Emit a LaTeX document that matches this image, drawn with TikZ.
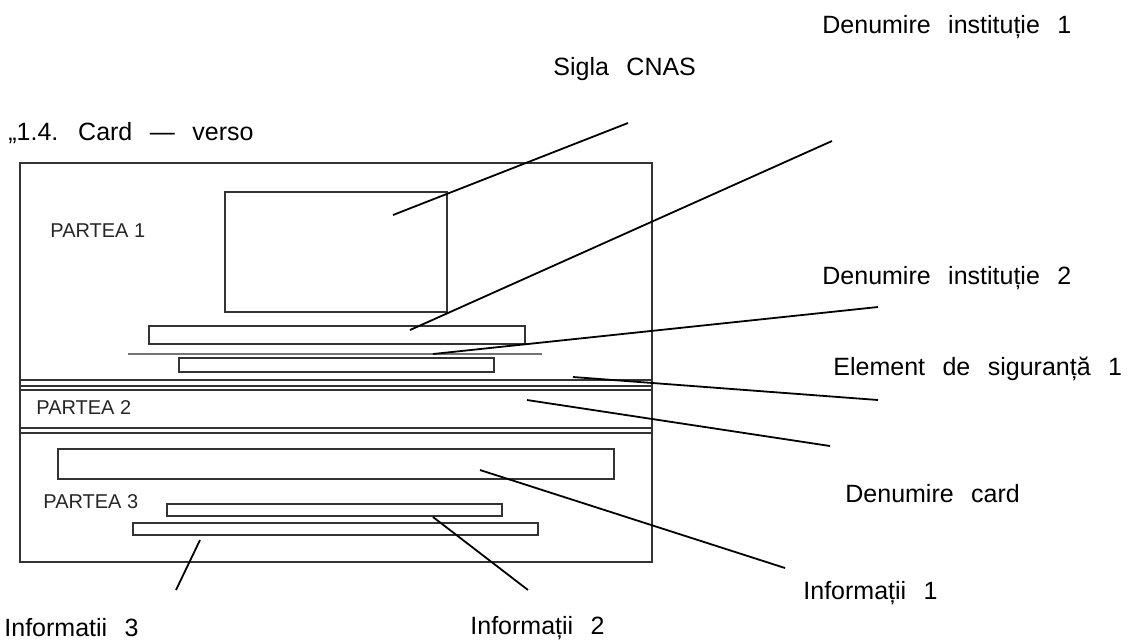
\documentclass[tikz,border=0pt]{standalone}
\usepackage{fontspec}
\setmainfont{Liberation Sans}
\usetikzlibrary{positioning}

\newcommand{\lblfont}{\fontsize{12.5}{15}\selectfont\spaceskip=0.7em\relax}
\newcommand{\partfont}{\fontsize{10}{12}\selectfont}

\begin{document}
\begin{tikzpicture}[x=0.5pt, y=-0.5pt,
		card/.style={draw=black!80, line width=1.2pt},
		bar/.style={draw=black!80, line width=1.1pt},
		leader/.style={draw=black, line width=0.9pt},
		lbl/.style={anchor=base west, inner sep=0pt, font=\lblfont},
		part/.style={anchor=base west, inner sep=0pt, font=\partfont, text=black!85}]
		\useasboundingbox (0, 0) rectangle (1130, 639);

		% card outline and the three parts
		\draw[card] (20, 163) rectangle (652, 562);
		\draw[card] (20, 380) -- (652, 380);
		\draw[card] (20, 386) -- (652, 386);
		\draw[card] (20, 390) -- (652, 390);
		\draw[card] (20, 428) -- (652, 428);
		\draw[card] (20, 433) -- (652, 433);

		% partea 1
		\draw[bar] (225, 192) rectangle (447, 312);
		\draw[bar] (149, 326) rectangle (525, 344);
		\draw[black!55, line width=1pt] (128, 354) -- (542, 354);
		\draw[bar] (179, 358) rectangle (494, 372);
		% partea 3
		\draw[bar] (58, 449) rectangle (614, 479);
		\draw[bar] (167, 504) rectangle (502, 516);
		\draw[bar] (133, 523) rectangle (538, 535);

		\node[part] (p1) at (50, 237) {PARTEA 1};
		\node[part] (p2) at (36, 414) {PARTEA 2};
		\node[part] (p3) at (43, 508) {PARTEA 3};

		\node[lbl] (title) at (8, 140) {„1.4. Card — verso};
		\node[lbl] (sigla) at (553, 75) {Sigla CNAS};
		\node[lbl] (inst1) at (822, 33) {Denumire instituție 1};
		\node[lbl] (inst2) at (822, 284) {Denumire instituție 2};
		\node[lbl] (elem) at (833, 375) {Element de siguranță 1};
		\node[lbl] (dcard) at (845, 502) {Denumire card};
		\node[lbl] (info1) at (803, 599) {Informații 1};
		\node[lbl] (info2) at (470, 634) {Informații 2};
		\node[lbl] (info3) at (4, 636) {Informatii 3};

		% leader line ends
		\coordinate (logo) at (393, 215);
		\coordinate (logo end) at (628, 123);
		\coordinate (barA) at (410, 330);
		\coordinate (barA end) at (832, 141);
		\coordinate (grey) at (433, 354);
		\coordinate (grey end) at (878, 307);
		\coordinate (band) at (573, 377);
		\coordinate (band end) at (878, 400);
		\coordinate (mid) at (527, 400);
		\coordinate (mid end) at (830, 446);
		\coordinate (barC) at (480, 470);
		\coordinate (barC end) at (785, 568);
		\coordinate (barD) at (433, 517);
		\coordinate (barD end) at (528, 590);
		\coordinate (barE) at (200, 540);
		\coordinate (barE end) at (176, 590);

		\foreach \a in {logo, barA, grey, band, mid, barC, barD, barE}
			\draw[leader] (\a) -- (\a\space end);
\end{tikzpicture}
\end{document}
